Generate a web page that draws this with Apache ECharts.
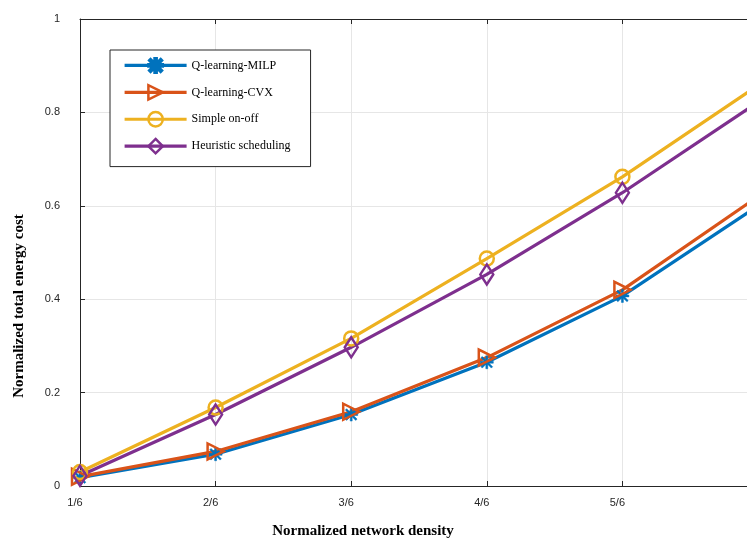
<!DOCTYPE html>
<html>
<head>
<meta charset="utf-8">
<script src="https://cdn.jsdelivr.net/npm/echarts@6/dist/echarts.min.js"></script>
<style>
  html, body { margin: 0; padding: 0; background: #fff; overflow: hidden; }
  #chart { width: 780px; height: 540px; }
</style>
</head>
<body>
<div id="chart"></div>
<script>
// data
const densities = ["1/6", "2/6", "3/6", "4/6", "5/6", "6/6"];
const qMilp = [0.018, 0.068, 0.153, 0.265, 0.407, 0.600];
const qCvx = [0.020, 0.074, 0.159, 0.275, 0.420, 0.620];
const simpleOnOff = [0.030, 0.168, 0.316, 0.487, 0.662, 0.858];
const heuristic = [0.022, 0.153, 0.297, 0.453, 0.628, 0.822];

const seriesNames = ["Q-learning-MILP", "Q-learning-CVX", "Simple on-off", "Heuristic scheduling"];
const colors = ["#0072BD", "#D95319", "#EDB120", "#7E2F8E"];

// matlab-ish '*' marker
const asterisk =
    "path://M8.5,0 H11.5 V20 H8.5 Z M0,8.5 H20 V11.5 H0 Z " +
    "M1,3 L3,1 L19,17 L17,19 Z M17,1 L19,3 L3,19 L1,17 Z";

function makeSeries(name, data, color, symbol, size, rotate, hollow) {
    return {
        name: name,
        type: "line",
        data: data,
        symbol: symbol,
        symbolSize: size,
        symbolRotate: rotate,
        showAllSymbol: true,
        lineStyle: { color: color, width: 3.2 },
        itemStyle: hollow
            ? { color: "rgba(0,0,0,0)", borderColor: color, borderWidth: 2.5 }
            : { color: color, borderColor: color, borderWidth: 0.5 },
        emphasis: { disabled: true },
        animation: false,
    };
}

const chart = echarts.init(document.getElementById("chart"));

const options = {
    backgroundColor: "#fff",
    animation: false,
    grid: {
        left: 80,
        right: 22,
        top: 19,
        bottom: 54,
        containLabel: false,
    },
    legend: {
        orient: "vertical",
        left: 110,
        top: 50,
        data: seriesNames,
        itemWidth: 62,
        itemHeight: 18,
        itemGap: 10,
        padding: [7, 20, 12, 13],
        borderColor: "#262626",
        borderWidth: 1,
        backgroundColor: "#fff",
        lineStyle: { width: 3.2 },
        itemStyle: { borderWidth: 2.5 },
        textStyle: {
            fontFamily: "Liberation Serif",
            fontSize: 12,
            color: "#000",
        },
    },
    xAxis: [
        {
            type: "category",
            data: densities,
            boundaryGap: false,
            axisLine: { lineStyle: { color: "#262626", width: 1 } },
            axisTick: { inside: true, length: 5, lineStyle: { color: "#262626" } },
            axisLabel: {
                fontFamily: "Liberation Sans",
                fontSize: 11,
                color: "#262626",
                margin: 11,
                padding: [0, 10, 0, 0],
                showMaxLabel: false,
            },
            splitLine: { show: true, lineStyle: { color: "#e6e6e6", width: 1 } },
        },
        {
            type: "category",
            data: densities,
            boundaryGap: false,
            position: "top",
            axisLine: { lineStyle: { color: "#262626", width: 1 } },
            axisTick: { inside: true, length: 5, lineStyle: { color: "#262626" } },
            axisLabel: { show: false },
            splitLine: { show: false },
        },
    ],
    yAxis: {
        type: "value",
        min: 0,
        max: 1,
        interval: 0.2,
        axisLine: { show: true, lineStyle: { color: "#262626", width: 1 } },
        axisTick: { show: true, inside: true, length: 5, lineStyle: { color: "#262626" } },
        axisLabel: {
            fontFamily: "Liberation Sans",
            fontSize: 11,
            color: "#262626",
            margin: 20,
            padding: [0, 0, 8, 0],
        },
        splitLine: { show: true, lineStyle: { color: "#e6e6e6", width: 1 } },
    },
    graphic: [
        {
            type: "text",
            x: 363,
            y: 531,
            style: {
                text: "Normalized network density",
                font: "bold 15px 'Liberation Serif'",
                fill: "#000",
                align: "center",
                verticalAlign: "middle",
            },
        },
        {
            type: "text",
            x: 19,
            y: 306,
            rotation: Math.PI / 2,
            style: {
                text: "Normalized total energy cost",
                font: "bold 15px 'Liberation Serif'",
                fill: "#000",
                align: "center",
                verticalAlign: "middle",
            },
        },
    ],
    series: [
        makeSeries(seriesNames[0], qMilp, colors[0], asterisk, 13, 0, false),
        makeSeries(seriesNames[1], qCvx, colors[1], "triangle", 16, -90, true),
        makeSeries(seriesNames[2], simpleOnOff, colors[2], "circle", 14, 0, true),
        makeSeries(seriesNames[3], heuristic, colors[3], "diamond", [13, 20], 0, true),
    ],
};

chart.setOption(options);
</script>
</body>
</html>
